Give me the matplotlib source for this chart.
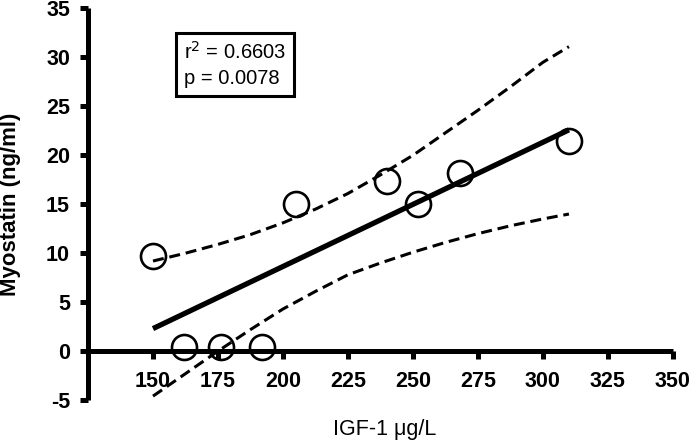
import matplotlib
matplotlib.use("Agg")
import matplotlib.pyplot as plt

plt.rcParams['font.family'] = ['Liberation Sans', 'DejaVu Sans']
plt.rcParams['axes.unicode_minus'] = False

# data points
igf1 = [150, 162, 176, 192, 205, 240, 252, 268, 310]
myostatin = [9.7, 0.4, 0.4, 0.4, 15.0, 17.4, 15.0, 18.2, 21.5]

# regression line end points
fit_x = [150, 310]
fit_y = [2.3, 22.6]

# 95% confidence band
ci_x = [150, 162.5, 175, 187.5, 200, 212.5, 225, 237.5, 250, 262.5, 275, 287.5, 300, 310]
ci_upper = [9.2, 10.0, 10.9, 11.9, 13.1, 14.5, 16.1, 18.0, 20.0, 22.3, 24.6, 27.0, 29.5, 31.1]
ci_lower = [-4.6, -2.3, 0.0, 2.2, 4.3, 6.1, 7.8, 9.0, 10.1, 11.1, 12.0, 12.8, 13.5, 14.0]

x_ticks = [150, 175, 200, 225, 250, 275, 300, 325, 350]
y_ticks = [-5, 0, 5, 10, 15, 20, 25, 30, 35]

fig = plt.figure(figsize=(6.93, 4.45), dpi=100)
ax = fig.add_axes([0.127, 0.101, 0.844, 0.880])

ax.plot(fit_x, fit_y, color='black', lw=3.8, solid_capstyle='butt', zorder=3)
ax.plot(ci_x, ci_upper, color='black', lw=2.2, dashes=(3.6, 1.9), zorder=3)
ax.plot(ci_x, ci_lower, color='black', lw=2.2, dashes=(3.6, 1.9), zorder=3)
ax.plot(igf1, myostatin, 'o', ms=18, mfc='none', mec='black', mew=1.9,
        zorder=4, clip_on=False)

ax.set_xlim(125, 350)
ax.set_ylim(-5, 35)
ax.set_xticks(x_ticks)
ax.set_yticks(y_ticks)

ax.spines['top'].set_visible(False)
ax.spines['right'].set_visible(False)
ax.spines['bottom'].set_position(('data', 0))
ax.spines['bottom'].set_linewidth(3.6)
ax.spines['left'].set_linewidth(3.6)
ax.spines['bottom'].set_capstyle('butt')
ax.spines['left'].set_capstyle('butt')

ax.tick_params(axis='x', length=6, width=3.6, pad=8, labelsize=15.5)
ax.tick_params(axis='y', length=6, width=3.6, pad=7, labelsize=15.5)
for lab in ax.get_xticklabels() + ax.get_yticklabels():
    lab.set_fontweight('bold')

ax.set_ylabel('Myostatin (ng/ml)', fontsize=16, fontweight='bold')
ax.yaxis.set_label_coords(-0.114, 0.5)
fig.text(0.555, 0.034, 'IGF-1 \u03bcg/L', fontsize=15.5, ha='center', va='center')

ax.text(162.0, 31.7, 'r$^2$ = 0.6603\np = 0.0078', fontsize=14.5, va='top',
        ha='left', linespacing=1.4,
        bbox=dict(boxstyle='square,pad=0.4', fc='white', ec='black', lw=2.2))

fig.savefig('out.png', dpi=100)
